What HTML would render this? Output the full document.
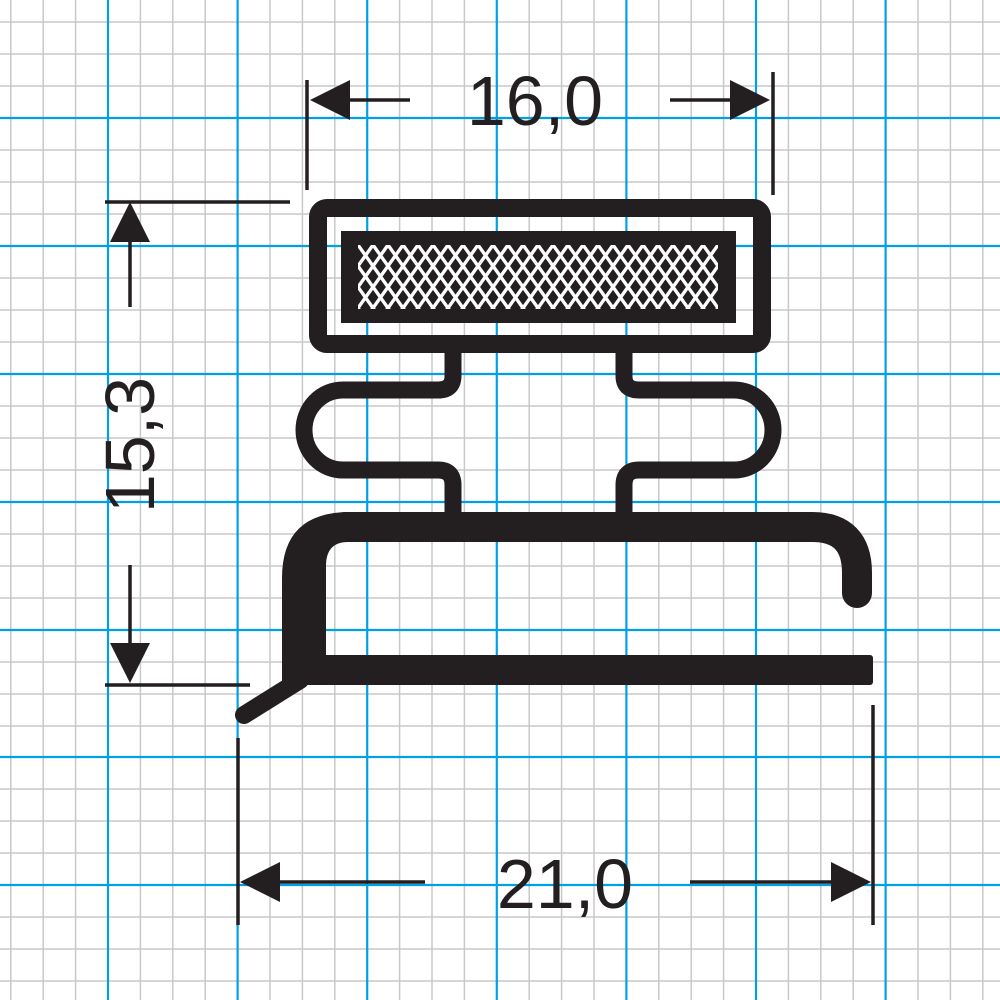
<!DOCTYPE html>
<html><head><meta charset="utf-8"><style>
html,body{margin:0;padding:0;background:#fff}
svg{display:block}
text{font-family:"Liberation Sans",sans-serif;fill:#231f20}
</style></head><body>
<svg width="1000" height="1000" viewBox="0 0 1000 1000" xmlns="http://www.w3.org/2000/svg">
<defs>
<pattern id="mesh" x="358" y="245" width="15" height="21" patternUnits="userSpaceOnUse">
<path d="M0,0 L15,21 M15,0 L0,21 M-7.5,10.5 L0,21 M7.5,-10.5 L22.5,10.5" stroke="#fff" stroke-width="3.4" fill="none"/>
</pattern>
<clipPath id="mc"><rect x="358" y="245" width="360" height="64"/></clipPath>
</defs>
<rect width="1000" height="1000" fill="#fff"/>
<g stroke="#c8c8c8" stroke-width="1.5">
<path d="M10.8,0V1000M43.2,0V1000M75.6,0V1000M140.4,0V1000M172.8,0V1000M205.2,0V1000M270,0V1000M302.4,0V1000M334.8,0V1000M399.6,0V1000M432,0V1000M464.4,0V1000M529.2,0V1000M561.6,0V1000M594,0V1000M658.8,0V1000M691.2,0V1000M723.6,0V1000M788.4,0V1000M820.8,0V1000M853.2,0V1000M918,0V1000M950.4,0V1000M982.8,0V1000"/>
<path d="M0,22H1000M0,54H1000M0,86H1000M0,150H1000M0,182H1000M0,214H1000M0,278H1000M0,310H1000M0,342H1000M0,406H1000M0,438H1000M0,470H1000M0,534H1000M0,566H1000M0,598H1000M0,662H1000M0,694H1000M0,726H1000M0,789H1000M0,821H1000M0,853H1000M0,917H1000M0,949H1000M0,981H1000"/>
</g>
<g stroke="#00a0e3" stroke-width="2.2">
<path d="M108,0V1000M237.6,0V1000M367.2,0V1000M496.8,0V1000M626.4,0V1000M756,0V1000M885.6,0V1000"/>
<path d="M0,118H1000M0,246H1000M0,374H1000M0,502H1000M0,630H1000M0,757H1000M0,885H1000"/>
</g>
<g fill="#231f20" stroke="#231f20">
<rect x="318" y="208" width="444" height="136" rx="9" fill="none" stroke-width="18"/>
<rect x="341" y="231" width="395" height="92" stroke="none"/>
<path d="M453,350 V376 Q453,390 438,390 H343 A39,40 0 0 0 343,470 H438 Q453,470 453,485 V515" fill="none" stroke-width="17"/>
<path d="M624,350 V376 Q624,390 639,390 H734 A39,40 0 0 1 734,470 H639 Q624,470 624,485 V515" fill="none" stroke-width="17"/>
<path d="M857,593 V573 Q857,527 812,527 H345" fill="none" stroke-width="30" stroke-linecap="round"/>
<path d="M282,685 V578 Q282,512 350,512 H370 V542 H348 Q326,542 326,566 V685 Z" stroke="none"/>
<rect x="282" y="655" width="591" height="30" rx="3" stroke="none"/>
<path d="M300,680 L244,715" fill="none" stroke-width="18" stroke-linecap="round"/>
<g stroke-width="3.5" fill="none">
<path d="M307,80V190M773,72V195M350,100H410M670,100H732"/>
<path d="M105,202H290M105,685H250M130,240V307M130,565V645"/>
<path d="M238,738V925M873,705V925M278,882H425M690,882H832"/>
</g>
<g stroke="none">
<path d="M310,100 L350,80 L350,120 Z"/>
<path d="M770,100 L730,80 L730,120 Z"/>
<path d="M130,202 L110,242 L150,242 Z"/>
<path d="M130,683 L110,643 L150,643 Z"/>
<path d="M240,882 L280,862 L280,902 Z"/>
<path d="M871,882 L831,862 L831,902 Z"/>
</g>
</g>
<rect x="358" y="245" width="360" height="64" fill="url(#mesh)" clip-path="url(#mc)"/>
<text x="535" y="125" font-size="70" text-anchor="middle">16,0</text>
<text x="565" y="908" font-size="70" text-anchor="middle">21,0</text>
<text transform="translate(154,445) rotate(-90)" font-size="70" text-anchor="middle">15,3</text>
</svg>
</body></html>
